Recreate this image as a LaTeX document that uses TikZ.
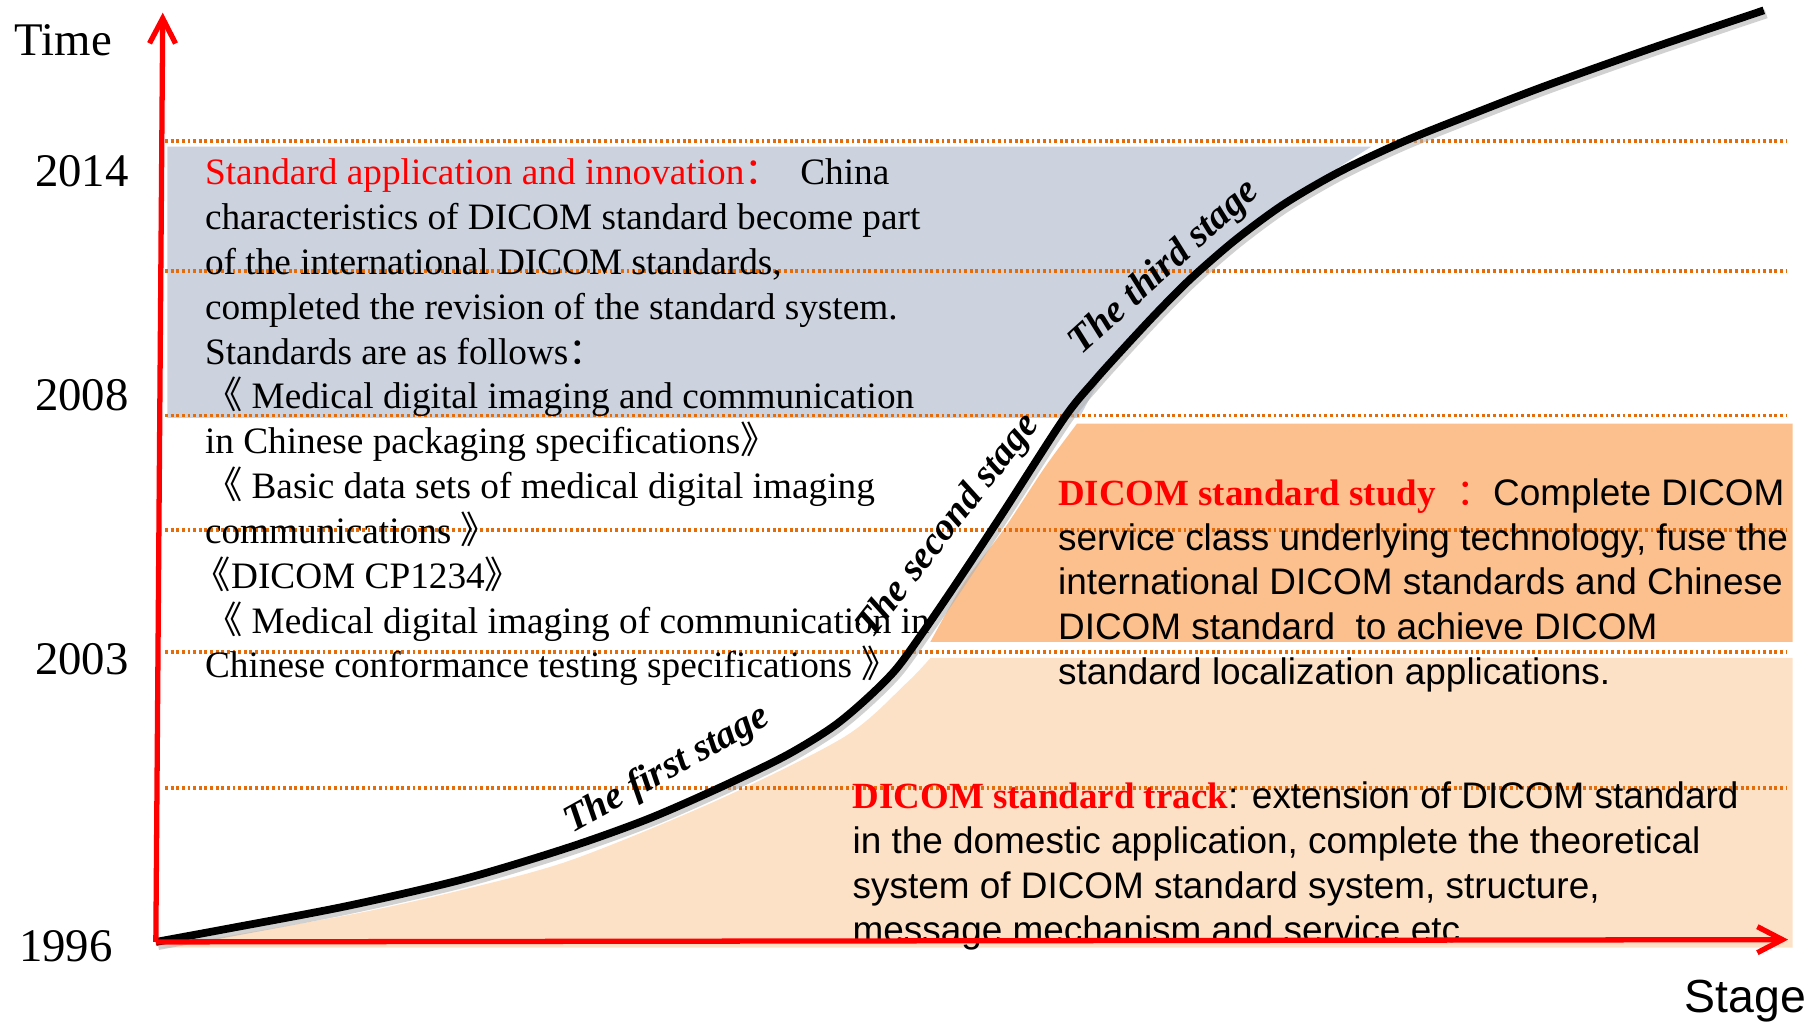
\documentclass[tikz,border=0pt]{standalone}
\usepackage{fontspec}
\setmainfont{Liberation Serif}
\setsansfont{Liberation Sans}
\newfontfamily\cjk{Noto Sans CJK SC}
\usepackage{tikz}
\usetikzlibrary{arrows.meta}

\definecolor{graybox}{RGB}{204,211,222}
\definecolor{darkpeach}{RGB}{251,192,142}
\definecolor{lightpeach}{RGB}{253,225,199}
\definecolor{dotorange}{RGB}{228,108,10}

\newcommand{\bkl}{{\cjk 《}}
\newcommand{\bkr}{{\cjk 》}}

\begin{document}
\begin{tikzpicture}[x = 0.011543cm, y = -0.011543cm,
  yearlabel/.style = {font = \fontsize{13.3}{16}\selectfont, inner sep = 0pt},
  textblock/.style = {font = \fontsize{10.6}{12.75}\selectfont, align = left, anchor = north west, inner sep = 0pt},
  stagelabel/.style = {font = \fontsize{11}{13}\selectfont\bfseries\itshape, inner sep = 0pt},
  dotline/.style = {dotorange, line width = 1.1pt, dash pattern = on 0.8pt off 0.8pt},
  redaxis/.style = {red, line width = 1.5pt, -{Straight Barb[length = 2.5mm, width = 2.6mm]}}
]
\useasboundingbox (0,0) rectangle (1568,889);

\fill[graybox] (145,127) -- (1188,127) -- plot[smooth] coordinates {(1188,127) (1110,178) (1030,242) (970,303) (935,362)} -- (145,362) -- cycle;
\fill[darkpeach] (1553,367) -- (1553,556) -- (806,556) -- plot[smooth] coordinates {(806,556) (835,505) (870,458) (905,405) (933,367)} -- cycle;
\fill[lightpeach] (806,570) -- (1553,570) -- (1553,821) -- (137,821) -- plot[smooth] coordinates {(137,821) (300,793) (400,771) (495,745) (622,693) (732,638) (785,592) (806,570)} -- cycle;

\foreach \ly in {122,235,360,459,565,683}
  \draw[dotline] (143,\ly) -- (1548,\ly);

\node[yearlabel] (time) at (55,35) {Time};
\node[yearlabel] (y2014) at (71,148) {2014};
\node[yearlabel] (y2008) at (71,342) {2008};
\node[yearlabel] (y2003) at (71,571) {2003};
\node[yearlabel] (y1996) at (57,820) {1996};
\node[yearlabel, font = \fontsize{13.2}{16}\selectfont\sffamily] (stage) at (1512,867) {Stage};

\node[textblock] (apply) at (177,137) {{\color{red}Standard application and innovation{\cjk ：}}\enspace China\\
characteristics of DICOM standard become part\\
of the international DICOM standards,\\
completed the revision of the standard system.\\
Standards are as follows{\cjk ：}\\
\bkl\ Medical digital imaging and communication\\
in Chinese packaging specifications\bkr\\
\bkl\ Basic data sets of medical digital imaging\\
communications \bkr\\
\hspace*{-0.3em}\bkl DICOM CP1234\bkr\\
\bkl\ Medical digital imaging of communication in\\
Chinese conformance testing specifications \bkr};

\node[textblock, font = \fontsize{10.5}{12.7}\selectfont\sffamily] (study) at (916,414) {{\color{red}\rmfamily\bfseries DICOM standard study}\ \ {\color{red}\cjk ：}Complete DICOM\\
service class underlying technology, fuse the\\
international DICOM standards and Chinese\\
DICOM standard\ \ to achieve DICOM\\
standard localization applications.};

\node[textblock, font = \fontsize{10.5}{12.7}\selectfont\sffamily] (track) at (738,677) {{\color{red}\rmfamily\bfseries DICOM standard track}: extension of DICOM standard\\
in the domestic application, complete the theoretical\\
system of DICOM standard system, structure,\\
message mechanism and service etc.};

\begin{scope}[shift = {(2,3)}]
\draw[gray!60, opacity = 0.6, line width = 2.6pt] plot[smooth] coordinates {(135,816) (200,804) (300,785) (400,762) (490,735) (560,710) (622,683) (680,655) (721,630) (750,606) (776,580) (800,547) (830,503) (869,444) (922,362) (948,330) (975,300) (1003,270) (1032,241) (1070,208) (1112,177) (1160,149) (1215,123) (1280,97) (1340,74) (1430,42) (1528,9)};
\end{scope}
\draw[black, line width = 2.2pt] plot[smooth] coordinates {(135,816) (200,804) (300,785) (400,762) (490,735) (560,710) (622,683) (680,655) (721,630) (750,606) (776,580) (800,547) (830,503) (869,444) (922,362) (948,330) (975,300) (1003,270) (1032,241) (1070,208) (1112,177) (1160,149) (1215,123) (1280,97) (1340,74) (1430,42) (1528,9)};

\node[stagelabel, rotate = 29] (first) at (578,667) {The first stage};
\node[stagelabel, rotate = 52] (second) at (822,456) {The second stage};
\node[stagelabel, rotate = 42] (third) at (1009,232) {The third stage};

\coordinate (o) at (135,816);
\coordinate (ytip) at (141,11);
\coordinate (xtip) at (1549,814);
\draw[redaxis] (o) -- (ytip);
\draw[redaxis] (o) -- (xtip);
\end{tikzpicture}
\end{document}
